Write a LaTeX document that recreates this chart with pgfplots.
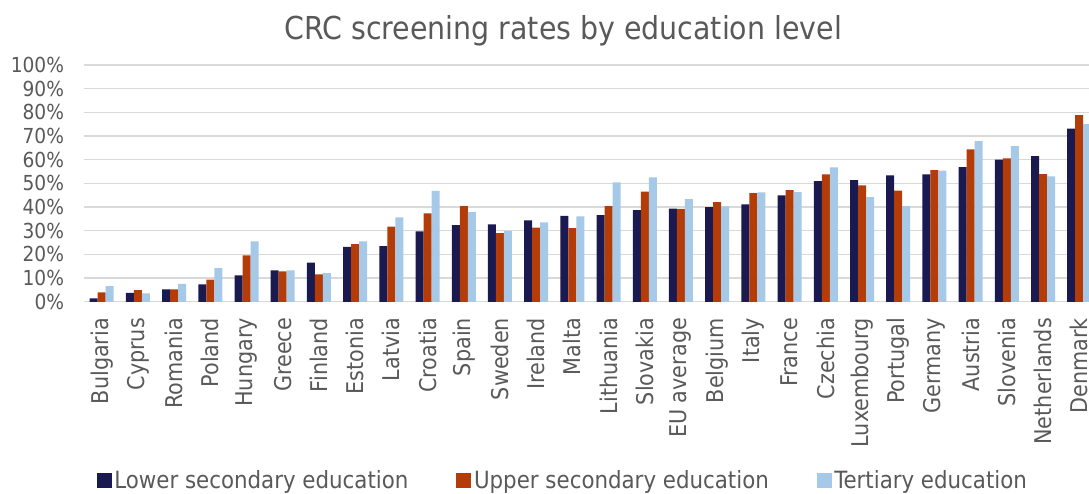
\documentclass[border=0pt]{standalone}
\usepackage{pgfplots}
\pgfplotsset{compat=1.18}
\usepackage{pgfplotstable}
\usepackage{fontspec}
\setmainfont{DejaVu Sans Condensed}
\definecolor{cdark}{RGB}{26,25,80}
\definecolor{corange}{RGB}{179,60,8}
\definecolor{clight}{RGB}{166,201,232}
\definecolor{ctext}{RGB}{89,89,89}
\definecolor{cgrid}{RGB}{217,217,217}
\pgfplotstableread{
x low up ter
0 1.4 4.0 6.6
1 3.8 4.9 3.5
2 5.2 5.2 7.6
3 7.3 9.3 14.2
4 11.1 19.6 25.5
5 13.3 12.8 13.3
6 16.5 11.6 12.1
7 23.2 24.4 25.5
8 23.5 31.7 35.6
9 29.7 37.3 46.8
10 32.4 40.4 37.9
11 32.7 29.0 30.0
12 34.4 31.3 33.5
13 36.3 31.1 36.1
14 36.6 40.4 50.4
15 38.7 46.5 52.5
16 39.4 39.2 43.4
17 40.0 42.1 40.3
18 41.1 45.9 46.2
19 44.9 47.2 46.3
20 51.0 53.8 56.8
21 51.4 49.2 44.2
22 53.4 47.0 40.4
23 53.8 55.6 55.4
24 56.9 64.4 67.9
25 60.0 60.6 65.8
26 61.5 53.9 53.0
27 73.2 78.9 75.1
}\datatable
\begin{document}
\begin{tikzpicture}
\begin{axis}[
  scale only axis,
  width=754pt, height=177.5pt,
  xmin=-0.5, xmax=27.27,
  ymin=0, ymax=100,
  ybar=0pt, bar width=6pt,
  xtick=data,
  xticklabels={Bulgaria,Cyprus,Romania,Poland,Hungary,Greece,Finland,Estonia,Latvia,Croatia,Spain,Sweden,Ireland,Malta,Lithuania,Slovakia,EU average,Belgium,Italy,France,Czechia,Luxembourg,Portugal,Germany,Austria,Slovenia,Netherlands,Denmark},
  ytick={0,10,...,100},
  yticklabel={\pgfmathprintnumber{\tick}\%},
  /pgf/number format/assume math mode=true,
  major tick length=0pt,
  axis line style={draw=none},
  ymajorgrids,
  grid style={cgrid, line width=1.1pt},
  tick label style={text=ctext},
  yticklabel style={font=\fontsize{15.5}{17}\selectfont, anchor=east, inner sep=0pt, xshift=-14.5pt},
  xticklabel style={font=\fontsize{17.3}{18}\selectfont, yshift=-12pt, rotate=90, anchor=east, inner sep=0pt},
  title={CRC screening rates by education level},
  title style={at={(axis description cs:0.477,1.112)}, anchor=center, font=\fontsize{23.7}{26}\selectfont, text=ctext},
  legend columns=3,
  legend style={at={(axis description cs:0.477,-0.757)}, anchor=center, draw=none, fill=none,
    font=\fontsize{17.8}{19}\selectfont, text=ctext,
    /tikz/every even column/.append style={column sep=34pt},
    nodes={inner sep=2pt}},
  legend image code/.code={\fill[#1] (0pt,-5.6pt) rectangle (11.2pt,5.6pt);},
]
\addplot[fill=cdark, draw=none] table[x=x, y=low] {\datatable};
\addplot[fill=corange, draw=none] table[x=x, y=up] {\datatable};
\addplot[fill=clight, draw=none] table[x=x, y=ter] {\datatable};
\legend{Lower secondary education, Upper secondary education, Tertiary education}
\end{axis}
\pgfresetboundingbox
\useasboundingbox (-62.7pt,-143.5pt) rectangle (754pt,226.3pt);
\end{tikzpicture}
\end{document}
